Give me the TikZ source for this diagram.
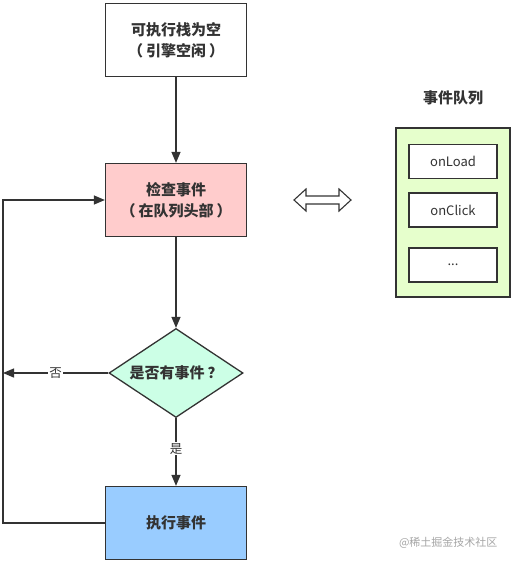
\documentclass[tikz,border=0pt]{standalone}
\usepackage{fontspec}
\setmainfont{Noto Sans CJK SC}
\usetikzlibrary{arrows.meta,shapes.geometric}
\definecolor{ln}{HTML}{333333}
\definecolor{pinkf}{HTML}{FFCCCC}
\definecolor{mintf}{HTML}{CCFFE6}
\definecolor{bluef}{HTML}{99CCFF}
\definecolor{greenf}{HTML}{E6FFCC}
\tikzset{
  box/.style={draw=ln, line width=1.3pt, minimum width=141pt, minimum height=73pt, inner sep=0pt, align=center, font=\bfseries\fontsize{15}{21}\selectfont, text=ln},
  qbox/.style={draw=ln, line width=1.3pt, fill=white, minimum width=88pt, minimum height=34pt, inner sep=0pt, font=\fontsize{13}{15}\selectfont, text=ln},
  conn/.style={draw=ln, line width=1.3pt, -{Triangle[length=11pt,width=9pt]}},
  lbl/.style={fill=white, inner sep=1pt, font=\fontsize{12.5}{14}\selectfont, text=ln}
}
\begin{document}
\begin{tikzpicture}[x=1pt,y=-1pt]
\useasboundingbox (0,0) rectangle (514,563);
\fill[white] (0,0) rectangle (514,563);
\node[box, fill=white] (b1) at (176,40) {可执行栈为空\\（\hspace{3pt}引擎空闲\hspace{3pt}）};
\node[box, fill=pinkf] (b2) at (176,200) {检查事件\\（\hspace{3pt}在队列头部\hspace{3pt}）};
\node[diamond, draw=ln, line width=1.3pt, fill=mintf, minimum width=134pt, minimum height=89pt, aspect=1.5, inner sep=0pt, font=\bfseries\fontsize{15}{17}\selectfont, text=ln] (d) at (176,373) {是否有事件\hspace{3pt}？};
\node[box, fill=bluef] (b3) at (176,523) {执行事件};
\coordinate (lt) at (3,373);
\coordinate (c1) at (3,523);
\coordinate (c2) at (3,200);
\draw[conn] (b1) -- (b2);
\draw[conn] (b2) -- (d);
\draw[conn] (d) -- node[lbl, pos=0.45] {是} (b3);
\draw[conn] (d) -- node[lbl, pos=0.5] {否} (lt);
\draw[conn] (b3.west) -- (c1) -- (c2) -- (b2.west);
% queue
\node[font=\bfseries\fontsize{15}{17}\selectfont, text=ln] (qt) at (453,98) {事件队列};
\node[draw=ln, line width=1.3pt, fill=greenf, minimum width=114pt, minimum height=169pt, inner sep=0pt] (q) at (453,212.5) {};
\node[qbox] (q1) at (453,161.5) {onLoad};
\node[qbox] (q2) at (453,210) {onClick};
\node[qbox] (q3) at (453,265) {...};
% double arrow
\draw[draw=ln, line width=1.1pt, fill=white, line join=miter] (294,200) -- (306,189) -- (306,196) -- (339,196) -- (339,189) -- (351,200) -- (339,211) -- (339,204) -- (306,204) -- (306,211) -- cycle;
\node[text=black!35, font=\fontsize{11}{13}\selectfont, anchor=east] (wm) at (501,543) {@稀土掘金技术社区};
\end{tikzpicture}
\end{document}
